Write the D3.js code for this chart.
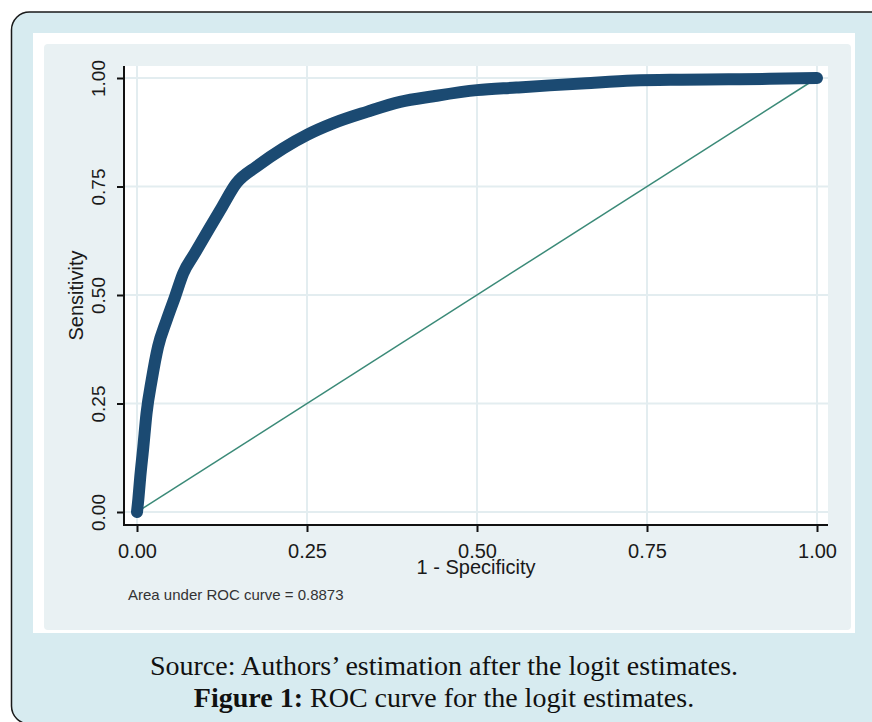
<!DOCTYPE html>
<html>
<head>
<meta charset="utf-8">
<script src="https://cdn.jsdelivr.net/npm/d3@7"></script>
<style>
  body { margin: 0; background: #ffffff; }
  svg { display: block; }
</style>
</head>
<body>
<div id="roc"></div>
<script>
// ROC curve for the logit estimates

// 1 - specificity (false positive rate)
const fpr = [0, 0.002, 0.0044, 0.0093, 0.014, 0.0216, 0.031, 0.0436, 0.056, 0.068,
             0.085, 0.105, 0.124, 0.146, 0.176, 0.215, 0.25, 0.289, 0.338, 0.387,
             0.436, 0.50, 0.558, 0.607, 0.66, 0.73, 0.80, 0.87, 0.93, 1.0];
// sensitivity (true positive rate)
const tpr = [0, 0.03, 0.074, 0.15, 0.227, 0.304, 0.381, 0.442, 0.496, 0.55,
             0.596, 0.65, 0.70, 0.757, 0.796, 0.838, 0.869, 0.896, 0.922, 0.945,
             0.958, 0.972, 0.978, 0.983, 0.988, 0.994, 0.996, 0.997, 0.998, 1.0];
// reference (chance) line
const refX = [0, 1];
const refY = [0, 1];

const tickValues = [0, 0.25, 0.5, 0.75, 1];
const xTitle = "1 - Specificity";
const yTitle = "Sensitivity";
const aucNote = "Area under ROC curve = 0.8873";
const captionSource = "Source: Authors\u2019 estimation after the logit estimates.";
const captionFigure = "Figure 1:";
const captionText = " ROC curve for the logit estimates.";

const width = 872, height = 722;
// plot area box
const plot = { left: 124, right: 828, top: 66, bottom: 525 };

const svg = d3.select("#roc")
  .append("svg")
  .attr("width", width)
  .attr("height", height);

// outer frame
svg.append("rect")
  .attr("x", 11.5).attr("y", 12)
  .attr("width", 900).attr("height", 712)
  .attr("rx", 18)
  .attr("fill", "#d7ebf0")
  .attr("stroke", "#1a1a1a")
  .attr("stroke-width", 1.5);

// white picture panel
svg.append("rect")
  .attr("x", 33).attr("y", 33)
  .attr("width", 822).attr("height", 600)
  .attr("fill", "#ffffff");

// graph region
svg.append("rect")
  .attr("x", 44).attr("y", 44)
  .attr("width", 807).attr("height", 586)
  .attr("rx", 4)
  .attr("fill", "#e9f1f3");

// plot region
svg.append("rect")
  .attr("x", plot.left).attr("y", plot.top)
  .attr("width", plot.right - plot.left)
  .attr("height", plot.bottom - plot.top)
  .attr("fill", "#ffffff");

let xScale = d3.scaleLinear()
  .domain([0, 1])
  .range([137, 817]);

let yScale = d3.scaleLinear()
  .domain([0, 1])
  .range([512, 78]);

// grid lines
svg.append("g")
  .selectAll("line")
  .data(tickValues)
  .enter()
  .append("line")
    .attr("x1", d => xScale(d)).attr("x2", d => xScale(d))
    .attr("y1", plot.top).attr("y2", plot.bottom)
    .attr("stroke", "#e3edf0")
    .attr("stroke-width", 2);

svg.append("g")
  .selectAll("line")
  .data(tickValues)
  .enter()
  .append("line")
    .attr("y1", d => yScale(d)).attr("y2", d => yScale(d))
    .attr("x1", plot.left).attr("x2", plot.right)
    .attr("stroke", "#e3edf0")
    .attr("stroke-width", 2);

// x-axis
const xAxis = svg.append("g")
  .attr("transform", `translate(0,${plot.bottom})`)
  .call(d3.axisBottom(xScale)
    .tickValues(tickValues)
    .tickFormat(d3.format(".2f"))
    .tickSize(7)
    .tickSizeOuter(0)
    .tickPadding(12));
xAxis.select(".domain").remove();
xAxis.selectAll(".tick line").attr("stroke", "#111").attr("stroke-width", 2);
xAxis.selectAll(".tick text")
  .attr("font-family", "Liberation Sans, Arial, sans-serif")
  .attr("font-size", "20px")
  .attr("fill", "#1a1a1a");

// y-axis
const yAxis = svg.append("g")
  .attr("transform", `translate(${plot.left},0)`)
  .call(d3.axisLeft(yScale)
    .tickValues(tickValues)
    .tickFormat(d3.format(".2f"))
    .tickSize(7)
    .tickSizeOuter(0));
yAxis.select(".domain").remove();
yAxis.selectAll(".tick line").attr("stroke", "#111").attr("stroke-width", 2);
yAxis.selectAll(".tick text")
  .attr("font-family", "Liberation Sans, Arial, sans-serif")
  .attr("font-size", "19px")
  .attr("fill", "#1a1a1a")
  .attr("text-anchor", "middle")
  .attr("dy", null)
  .attr("x", null)
  .attr("transform", "translate(-19,0) rotate(-90)");

// axis lines
svg.append("line")
  .attr("x1", plot.left).attr("x2", plot.left)
  .attr("y1", plot.top).attr("y2", plot.bottom + 1)
  .attr("stroke", "#111").attr("stroke-width", 2);
svg.append("line")
  .attr("x1", plot.left - 1).attr("x2", plot.right)
  .attr("y1", plot.bottom).attr("y2", plot.bottom)
  .attr("stroke", "#111").attr("stroke-width", 2);

// chance line
svg.append("path")
  .datum(d3.zip(refX, refY))
  .attr("d", d3.line().x(d => xScale(d[0])).y(d => yScale(d[1])))
  .attr("fill", "none")
  .attr("stroke", "#3b8a78")
  .attr("stroke-width", 1.5);

// ROC curve
svg.append("path")
  .datum(d3.zip(fpr, tpr))
  .attr("d", d3.line()
    .curve(d3.curveMonotoneX)
    .x(d => xScale(d[0]))
    .y(d => yScale(d[1])))
  .attr("fill", "none")
  .attr("stroke", "#1b4a72")
  .attr("stroke-width", 12)
  .attr("stroke-linecap", "round")
  .attr("stroke-linejoin", "round");

// axis titles
svg.append("text")
  .attr("x", (plot.left + plot.right) / 2)
  .attr("y", 574)
  .attr("text-anchor", "middle")
  .attr("font-family", "Liberation Sans, Arial, sans-serif")
  .attr("font-size", "20px")
  .attr("fill", "#1a1a1a")
  .text(xTitle);

svg.append("text")
  .attr("transform", `translate(83,${(plot.top + plot.bottom) / 2}) rotate(-90)`)
  .attr("text-anchor", "middle")
  .attr("font-family", "Liberation Sans, Arial, sans-serif")
  .attr("font-size", "20px")
  .attr("fill", "#1a1a1a")
  .text(yTitle);

// note
svg.append("text")
  .attr("x", 128)
  .attr("y", 600)
  .attr("font-family", "Liberation Sans, Arial, sans-serif")
  .attr("font-size", "15px")
  .attr("fill", "#333")
  .text(aucNote);

// caption
svg.append("text")
  .attr("x", 444)
  .attr("y", 675)
  .attr("text-anchor", "middle")
  .attr("font-family", "Liberation Serif, serif")
  .attr("font-size", "28px")
  .attr("fill", "#111")
  .text(captionSource);

const fig = svg.append("text")
  .attr("x", 444)
  .attr("y", 707)
  .attr("text-anchor", "middle")
  .attr("font-family", "Liberation Serif, serif")
  .attr("font-size", "28px")
  .attr("fill", "#111");
fig.append("tspan").attr("font-weight", "bold").text(captionFigure);
fig.append("tspan").text(captionText);
</script>
</body>
</html>
